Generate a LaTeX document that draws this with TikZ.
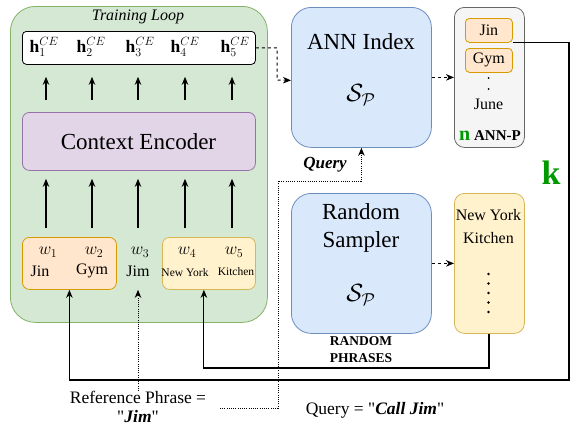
\documentclass[tikz,border=0pt]{standalone}
\usepackage{fontspec}
\setmainfont{Liberation Serif}
\usetikzlibrary{arrows.meta}
\newcommand{\fsz}[2]{\fontsize{#1}{#2}\selectfont}
\definecolor{loopfill}{HTML}{D5E8D4}
\definecolor{loopline}{HTML}{82B366}
\definecolor{encfill}{HTML}{E1D5E7}
\definecolor{encline}{HTML}{9673A6}
\definecolor{orfill}{HTML}{FFE6CC}
\definecolor{orline}{HTML}{D79B00}
\definecolor{yefill}{HTML}{FFF2CC}
\definecolor{yeline}{HTML}{D6B656}
\definecolor{blfill}{HTML}{DAE8FC}
\definecolor{blline}{HTML}{6C8EBF}
\definecolor{grfill}{HTML}{F5F5F5}
\definecolor{grline}{HTML}{666666}
\definecolor{kgreen}{HTML}{009900}
\begin{document}
\begin{tikzpicture}[
    x=1pt, y=-1pt,
    >={Stealth[length=8pt,width=6.5pt,inset=2.5pt]},
    box/.style={
        draw,
        line width=0.8pt,
        anchor=north west,
        inner sep=0pt
    },
    blockbox/.style={box, fill=blfill, draw=blline, rounded corners=20pt,
        minimum width=140pt, minimum height=140pt},
    wordbox/.style={box, fill=orfill, draw=orline, rounded corners=4pt,
        minimum width=47pt, minimum height=24pt},
    lbl/.style={inner sep=0pt, font=\fsz{16}{19}},
    arr/.style={->, line width=1.1pt},
    dasharr/.style={->, line width=1pt, dash pattern=on 3pt off 3pt},
    dotarr/.style={->, line width=1pt, dash pattern=on 1pt off 1.2pt},
    dotmark/.style={circle, fill=black, inner sep=0pt, minimum size=2.6pt}
]
    \useasboundingbox (0,0) rectangle (571,426);

    % training loop
    \node[box, fill=loopfill, draw=loopline, rounded corners=25pt,
        minimum width=257pt, minimum height=316pt] (loop) at (10,6) {};
    \node[lbl, font=\fsz{16}{19}\itshape] (looptitle) at (138,17) {Training Loop};

    \node[box, fill=white, draw=black, rounded corners=4pt,
        minimum width=233pt, minimum height=33pt] (hbox) at (22,31) {};
    \node[box, fill=encfill, draw=encline, rounded corners=7pt,
        minimum width=233pt, minimum height=58pt] (enc) at (22,112) {};
    \node[lbl, font=\fsz{23}{27}] (enclabel) at (138.5,142) {Context Encoder};

    \node[box, fill=orfill, draw=orline, rounded corners=7pt,
        minimum width=94pt, minimum height=52pt] (obox) at (22,237) {};
    \node[box, fill=yefill, draw=yeline, rounded corners=7pt,
        minimum width=93pt, minimum height=52pt] (ybox) at (162,237) {};

    \foreach \i/\x/\hx in {1/46/44,2/92/91,3/138/140,4/185/185,5/232/235} {
        \node[lbl, font=\fsz{17.5}{20}] (h\i) at (\hx,47) {$\mathbf{h}_{\i}^{CE}$};
        \node[lbl, font=\fsz{18}{20}] (w\i) at (\x+2,252) {$w_{\i}$};
        \coordinate (col\i) at (\x,200);
        \draw[arr, shorten <=9pt, shorten >=8pt] (obox.north -| col\i) -- (enc.south -| col\i);
        \draw[arr, shorten <=12pt, shorten >=12pt] (enc.north -| col\i) -- (hbox.south -| col\i);
    }

    \node[lbl] (jin) at (40,271) {Jin};
    \node[lbl] (gym) at (92,271) {Gym};
    \node[lbl] (jim) at (138,271) {Jim};
    \node[lbl, font=\fsz{11.5}{14}] (ny) at (185,273) {New York};
    \node[lbl, font=\fsz{11.5}{14}] (kit) at (236,272) {Kitchen};

    % ANN index and its phrases
    \node[blockbox] (ann) at (291,7) {};
    \node[lbl, font=\fsz{23}{27}] (annlabel) at (361,42) {ANN Index};
    \node[lbl, font=\fsz{23}{27}] (anns) at (361,95) {$\mathcal{S}_{\mathcal{P}}$};

    \node[box, fill=grfill, draw=grline, rounded corners=10pt,
        minimum width=70pt, minimum height=140pt] (annp) at (454,7) {};
    \node[wordbox] (pjin) at (465,18) {};
    \node[lbl] at (pjin.center) {Jin};
    \node[wordbox] (pgym) at (465,48) {};
    \node[lbl] at (pgym.center) {Gym};
    \node[dotmark, minimum size=2pt] (pd1) at (488.5,78) {};
    \node[dotmark, minimum size=2pt] (pd2) at (488.5,89) {};
    \node[lbl] (june) at (488.5,104) {June};
    \node[lbl, font=\fsz{15}{18}\bfseries] (annptitle) at (490,136)
        {\textcolor{kgreen}{\fsz{20}{22}n} ANN-P};

    % random sampler and its phrases
    \node[blockbox] (samp) at (291,193) {};
    \node[lbl, font=\fsz{23}{28}, align=center] (samplabel) at (361,228) {Random\\Sampler};
    \node[lbl, font=\fsz{23}{27}] (samps) at (361,295) {$\mathcal{S}_{\mathcal{P}}$};
    \node[lbl, font=\fsz{13.5}{17}\bfseries, align=center] (rndlabel) at (361,350) {RANDOM\\PHRASES};

    \node[box, fill=yefill, draw=yeline, rounded corners=10pt,
        minimum width=70pt, minimum height=140pt] (phr) at (454,193) {};
    \node[lbl, font=\fsz{16}{23}, align=center] (phrtext) at (488.5,227) {New York\\Kitchen};
    \foreach \y in {274,283.5,293,302.5,312}
        \node[dotmark] at (488.5,\y) {};

    % labels
    \node[lbl, font=\fsz{34}{36}\bfseries, text=kgreen] (klabel) at (551,173) {k};
    \node[lbl, font=\fsz{17.5}{19}, align=center] (ref) at (138,407)
        {Reference Phrase =\\\textquotedbl\textbf{\textit{Jim}}\textquotedbl};
    \node[lbl, font=\fsz{17.5}{20}] (query) at (375,410)
        {Query = \textquotedbl\textbf{\textit{Call Jim}}\textquotedbl};
    \node[lbl, font=\fsz{17}{20}\bfseries\itshape] (querylabel) at (325,165) {Query};

    % connectors
    \coordinate (hturn) at (277,80);
    \coordinate (qstart) at (220,408);
    \coordinate (qturn) at (278,181);
    \coordinate (kturn) at (569,380);
    \coordinate (pturn) at (489,368);

    \draw[dasharr] (hbox.east) -| (hturn) -- ([yshift=-3pt]ann.west);
    \draw[dasharr] (ann.east) -- (annp.west);
    \draw[dasharr] (samp.east) -- (phr.west);
    \draw[dotarr] (qstart) -| (qturn) -| (ann.south);
    \draw[dotarr] (ref.north) -- (ref.north |- obox.south);
    \draw[arr] (pjin.south east) -| (kturn) -| (obox.south);
    \draw[arr] (pturn |- phr.south) -- (pturn) -| ([xshift=-5pt]ybox.south);
\end{tikzpicture}
\end{document}
